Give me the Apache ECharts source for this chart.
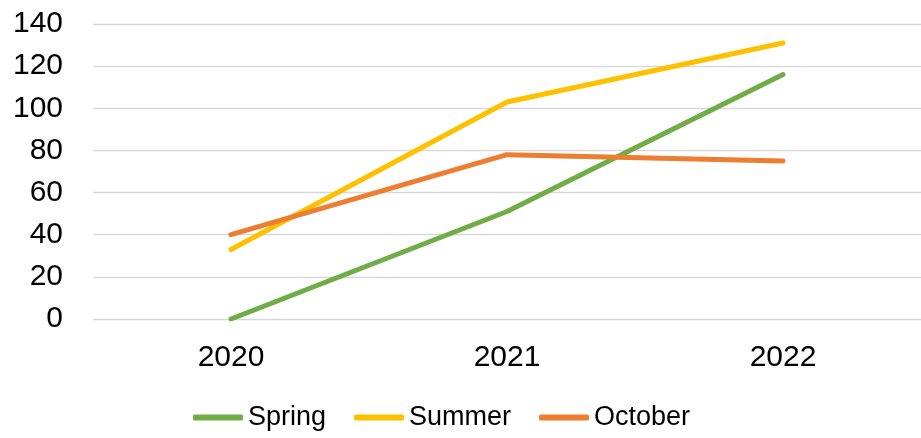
<!DOCTYPE html>
<html style="height: 100%">
<head>
    <meta charset="utf-8">
</head>
<body style="height: 100%; margin: 0; background: #fff">
<div id="container" style="width: 921px; height: 438px"></div>
<script type="text/javascript" src="https://cdn.jsdelivr.net/npm/echarts@6/dist/echarts.min.js"></script>
<script type="text/javascript">
var years = ['2020', '2021', '2022'];
var spring = [0, 51, 116];
var summer = [33, 103, 131];
var october = [40, 78, 75];

var dom = document.getElementById("container");
var myChart = echarts.init(dom);

function lineSeries(name, data, color) {
    return {
        name: name,
        type: 'line',
        data: data,
        symbol: 'none',
        color: color,
        lineStyle: { width: 5, color: color, cap: 'round', join: 'round' },
        animation: false
    };
}

var option = {
    backgroundColor: '#fff',
    textStyle: { fontFamily: 'Liberation Sans, Arial, sans-serif', color: '#000' },
    grid: {
        left: 93,
        top: 24,
        width: 834,
        bottom: 119,
        containLabel: false
    },
    legend: {
        bottom: 2,
        left: 188,
        itemWidth: 50,
        itemHeight: 6,
        itemGap: 28,
        icon: 'roundRect',
        textStyle: { fontSize: 27, color: '#000', fontFamily: 'Liberation Sans, Arial, sans-serif' },
        data: ['Spring', 'Summer', 'October']
    },
    xAxis: {
        type: 'category',
        data: years,
        boundaryGap: true,
        axisLine: { show: false },
        axisTick: { show: false },
        axisLabel: { fontSize: 30, color: '#000', margin: 24 }
    },
    yAxis: {
        type: 'value',
        min: 0,
        max: 140,
        interval: 20,
        axisLine: { show: false },
        axisTick: { show: false },
        axisLabel: { fontSize: 30, color: '#000', margin: 30 },
        splitLine: { lineStyle: { color: '#d9d9d9', width: 1.3 } }
    },
    series: [
        lineSeries('Spring', spring, '#70ad47'),
        lineSeries('Summer', summer, '#ffc000'),
        lineSeries('October', october, '#ed7d31')
    ]
};

myChart.setOption(option);
</script>
</body>
</html>
